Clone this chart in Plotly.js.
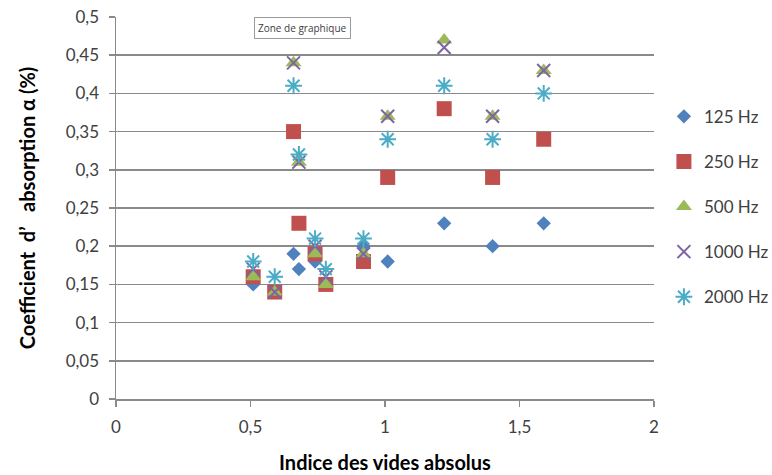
<!DOCTYPE html>
<html>
<head>
<meta charset="utf-8">
<script src="https://cdn.plot.ly/plotly-3.0.1.min.js"></script>
<style>
  html, body { margin: 0; padding: 0; background: #fff; }
  #chart { width: 772px; height: 475px; }
</style>
</head>
<body>
<div id="chart"></div>
<script>
// Absolute void index of each sample
const voidIndex = [0.51, 0.59, 0.66, 0.68, 0.74, 0.78, 0.92, 1.01, 1.22, 1.40, 1.59];

// Absorption coefficient per frequency band
const alpha125  = [0.15, 0.14, 0.19, 0.17, 0.18, 0.15, 0.20, 0.18, 0.23, 0.20, 0.23];
const alpha250  = [0.16, 0.14, 0.35, 0.23, 0.19, 0.15, 0.18, 0.29, 0.38, 0.29, 0.34];
const alpha500  = [0.16, 0.14, 0.44, 0.31, 0.19, 0.15, 0.19, 0.37, 0.47, 0.37, 0.43];
const alpha1000 = [0.17, 0.14, 0.44, 0.31, 0.20, 0.16, 0.19, 0.37, 0.46, 0.37, 0.43];
const alpha2000 = [0.18, 0.16, 0.41, 0.32, 0.21, 0.17, 0.21, 0.34, 0.41, 0.34, 0.40];

const seriesNames = ['125 Hz', '250 Hz', '500 Hz', '1000 Hz', '2000 Hz'];

// Axis ticks
const yTickVals = [0, 0.05, 0.1, 0.15, 0.2, 0.25, 0.3, 0.35, 0.4, 0.45, 0.5];
const yTickText = ['0', '0,05', '0,1', '0,15', '0,2', '0,25', '0,3', '0,35', '0,4', '0,45', '0,5'];
const xTickVals = [0, 0.5, 1, 1.5, 2];
const xTickText = ['0', '0,5', '1', '1,5', '2'];

const FONT = 'Lato, "Open Sans", sans-serif';

const styles = [
  { symbol: 'diamond',        size: 11, color: '#4F81BD', line: { width: 0 } },
  { symbol: 'square',         size: 15, color: '#C0504D', line: { width: 0 } },
  { symbol: 'triangle-up',    size: 14, color: '#9BBB59', line: { width: 0 } },
  { symbol: 'x-thin-open',    size: 13, color: '#8064A2', line: { width: 2, color: '#8064A2' } },
  { symbol: 'asterisk-open',  size: 14, color: '#4BACC6', line: { width: 2, color: '#4BACC6' } }
];

const values = [alpha125, alpha250, alpha500, alpha1000, alpha2000];

const traces = values.map((ys, i) => ({
  type: 'scatter',
  mode: 'markers',
  name: seriesNames[i],
  legendgroup: 'g' + i,
  x: voidIndex,
  y: ys,
  marker: styles[i],
  hoverinfo: 'x+y+name'
}));

const layout = {
  width: 772,
  height: 475,
  margin: { l: 116, r: 118, t: 17, b: 76, autoexpand: false },
  paper_bgcolor: '#ffffff',
  plot_bgcolor: '#ffffff',
  font: { family: FONT, color: '#404040', size: 16 },
  showlegend: true,
  legend: {
    xref: 'container', yref: 'container',
    x: 0.86, xanchor: 'left',
    y: 0.792, yanchor: 'top',
    font: { family: FONT, size: 17, color: '#404040' },
    tracegroupgap: 20,
    itemwidth: 30
  },
  xaxis: {
    range: [0, 2],
    tickvals: xTickVals,
    ticktext: xTickText,
    showgrid: false,
    zeroline: false,
    showline: true,
    linecolor: '#8a8a8a',
    linewidth: 1.5,
    ticks: 'outside',
    ticklen: 6,
    tickcolor: '#8a8a8a',
    tickwidth: 1.5,
    ticklabelstandoff: 6,
    tickfont: { family: FONT, size: 17, color: '#404040' },
    title: {
      text: '<b>Indice des vides absolus</b>',
      font: { family: FONT, size: 20, color: '#000000' },
      standoff: 20
    }
  },
  yaxis: {
    range: [0, 0.5],
    tickvals: yTickVals,
    ticktext: yTickText,
    showgrid: true,
    gridcolor: '#8a8a8a',
    gridwidth: 1.5,
    zeroline: false,
    showline: true,
    linecolor: '#8a8a8a',
    linewidth: 1.5,
    ticks: 'outside',
    ticklen: 6,
    tickcolor: '#8a8a8a',
    tickwidth: 1.5,
    ticklabelstandoff: 6,
    tickfont: { family: FONT, size: 17, color: '#404040' },
    title: {
      text: '<b>Coefficient\u00a0 d’\u00a0\u00a0 absorption α (%)</b>',
      font: { family: FONT, size: 20, color: '#000000' },
      standoff: 24
    }
  },
  annotations: [{
    xref: 'paper', yref: 'paper',
    x: 0.346, y: 0.972,
    xanchor: 'center', yanchor: 'middle',
    text: 'Zone de graphique',
    showarrow: false,
    font: { family: '"Open Sans", sans-serif', size: 10, color: '#404040' },
    bgcolor: '#ffffff',
    bordercolor: '#9a9a9a',
    borderwidth: 1,
    borderpad: 3
  }]
};

Plotly.newPlot('chart', traces, layout, { displayModeBar: false, staticPlot: true });
</script>
</body>
</html>
